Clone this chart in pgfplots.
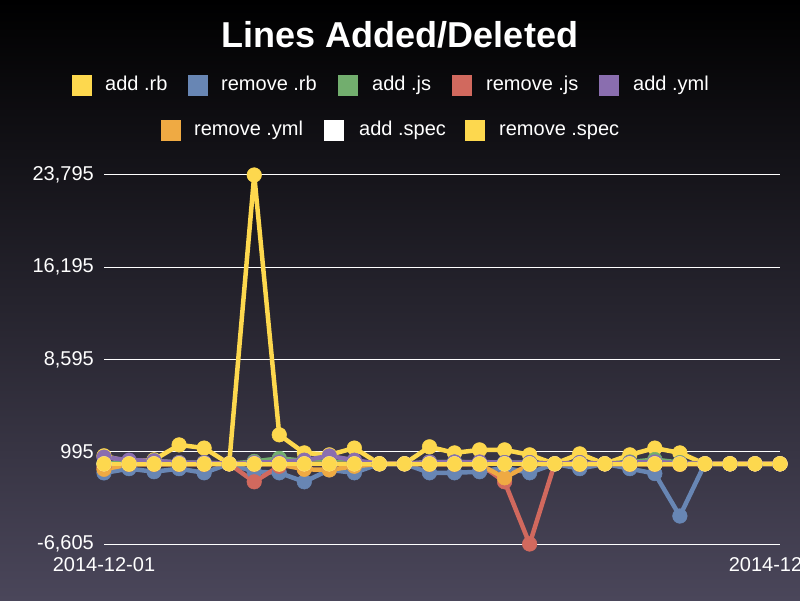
\documentclass[border=0pt]{standalone}
\usepackage{pgfplots}
\pgfplotsset{compat=1.18}
\usepackage{pgfplotstable}
\usepackage{fontspec}
\setmainfont{Liberation Sans}
\definecolor{cyel}{HTML}{FDD84E}
\definecolor{cblu}{HTML}{6886B4}
\definecolor{cgrn}{HTML}{72AE6E}
\definecolor{cred}{HTML}{D1695E}
\definecolor{cpur}{HTML}{8A6EAF}
\definecolor{cora}{HTML}{EFAA43}
\definecolor{bgbot}{HTML}{4A465A}
\pgfplotstableread{
i arb rrb ajs rjs ayml ryml aspec rspec
0 660 -750 0 -300 550 -450 0 0
1 160 -400 100 0 300 -50 0 0
2 330 -650 250 0 250 -50 0 0
3 1560 -400 100 0 100 -50 0 0
4 1300 -740 100 0 100 -50 0 0
5 0 0 0 0 0 0 0 0
6 23795 -650 200 -1480 100 -50 0 0
7 2390 -740 450 -200 150 -50 0 0
8 900 -1480 250 0 300 -450 0 0
9 740 -500 150 0 650 -500 0 0
10 1300 -740 100 0 300 -200 0 0
11 0 0 0 0 0 0 0 0
12 0 0 0 0 0 0 0 0
13 1400 -740 150 0 150 -50 0 0
14 900 -740 150 0 150 -50 0 0
15 1150 -650 100 0 150 -50 0 0
16 1150 -330 100 -1480 100 -1150 0 0
17 740 -740 100 -6605 100 -50 0 0
18 0 0 0 0 0 0 0 0
19 820 -400 100 0 100 -50 0 0
20 0 0 0 0 0 0 0 0
21 740 -400 150 0 100 -50 0 0
22 1300 -800 350 0 150 -50 0 0
23 900 -4300 100 0 50 -50 0 0
24 0 0 0 0 0 0 0 0
25 0 0 0 0 0 0 0 0
26 0 0 0 0 0 0 0 0
27 0 0 0 0 0 0 0 0
}\data
\newcommand{\legfont}{\fontsize{20}{24}\selectfont}
\begin{document}
\begin{tikzpicture}
\clip (0pt,0pt) rectangle (800pt,600pt);
\shade[top color=black, bottom color=bgbot] (0pt,0pt) rectangle (800pt,600pt);
\node[font=\fontsize{36}{40}\selectfont\bfseries, text=white, anchor=base, inner sep=0pt] at (400pt,552pt) {Lines Added/Deleted};
% legend row 1
\fill[cyel] (72pt,504pt) rectangle (92pt,525pt);
\node[anchor=base west, inner sep=0pt, text=white, font=\legfont] at (105pt,509pt) {add .rb};
\fill[cblu] (188pt,504pt) rectangle (208pt,525pt);
\node[anchor=base west, inner sep=0pt, text=white, font=\legfont] at (221pt,509pt) {remove .rb};
\fill[cgrn] (338pt,504pt) rectangle (358pt,525pt);
\node[anchor=base west, inner sep=0pt, text=white, font=\legfont] at (372pt,509pt) {add .js};
\fill[cred] (452pt,504pt) rectangle (472pt,525pt);
\node[anchor=base west, inner sep=0pt, text=white, font=\legfont] at (486pt,509pt) {remove .js};
\fill[cpur] (599pt,504pt) rectangle (619pt,525pt);
\node[anchor=base west, inner sep=0pt, text=white, font=\legfont] at (633pt,509pt) {add .yml};
% legend row 2
\fill[cora] (161pt,459pt) rectangle (181pt,480pt);
\node[anchor=base west, inner sep=0pt, text=white, font=\legfont] at (194pt,464pt) {remove .yml};
\fill[white] (324pt,459pt) rectangle (344pt,480pt);
\node[anchor=base west, inner sep=0pt, text=white, font=\legfont] at (359pt,464pt) {add .spec};
\fill[cyel] (465pt,459pt) rectangle (485pt,480pt);
\node[anchor=base west, inner sep=0pt, text=white, font=\legfont] at (499pt,464pt) {remove .spec};
\begin{axis}[
  at={(104pt,56pt)}, anchor=south west,
  scale only axis, width=676pt, height=369pt,
  xmin=0, xmax=27, ymin=-6605, ymax=23795,
  clip=false,
  scaled ticks=false,
  axis line style={draw=none},
  major tick length=0pt,
  ymajorgrids, grid style={white, line width=1pt},
  ytick={-6605,995,8595,16195,23795},
  yticklabels={{-6,605},{995},{8,595},{16,195},{23,795}},
  xtick={0,27},
  xticklabels={2014-12-01,2014-12-28},
  ticklabel style={text=white, font=\legfont},
  yticklabel style={anchor=east, inner sep=0pt, xshift=-10pt},
  xticklabel style={anchor=north, inner sep=0pt, yshift=-13pt},
  every axis plot/.append style={line width=4.5pt, mark=*, mark size=7.3pt, mark options={line width=0.5pt}},
]
\addplot[cyel] table[x=i,y=arb] {\data};
\addplot[cblu] table[x=i,y=rrb] {\data};
\addplot[cgrn] table[x=i,y=ajs] {\data};
\addplot[cred] table[x=i,y=rjs] {\data};
\addplot[cpur] table[x=i,y=ayml] {\data};
\addplot[cora] table[x=i,y=ryml] {\data};
\addplot[white] table[x=i,y=aspec] {\data};
\addplot[cyel] table[x=i,y=rspec] {\data};
\end{axis}
\end{tikzpicture}
\end{document}
